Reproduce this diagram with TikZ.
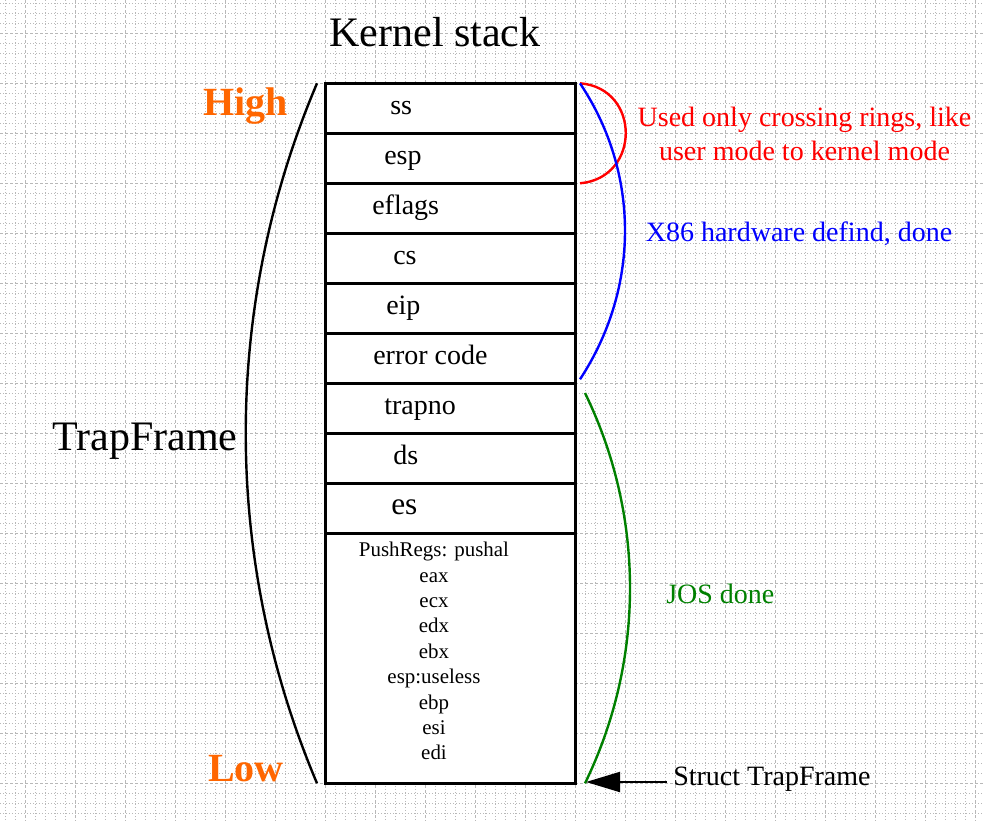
\documentclass[tikz,border=0pt]{standalone}
\usepackage{fontspec}
\setmainfont{Liberation Serif}
\usepackage{xcolor}
\usetikzlibrary{arrows.meta, positioning}
\definecolor{hilo}{HTML}{FF6600}
\definecolor{josgreen}{HTML}{008000}
\definecolor{gridgray}{HTML}{B8B8B8}
\tikzset{
    cell/.style={rectangle, draw=black, fill=white, line width=2.25pt, minimum width=187.5pt, minimum height=#1, inner sep=0pt, outer sep=0pt},
    cell/.default=37.5pt,
    field/.style={anchor=base west, inner sep=0pt, font=\fontsize{21}{25}\selectfont},
    pushreg/.style={anchor=base, inner sep=0pt, font=\fontsize{15.7}{19}\selectfont},
    note/.style={anchor=base, inner sep=0pt, font=\fontsize{21}{25}\selectfont},
    level/.style={anchor=base west, inner sep=0pt, text=hilo, font=\fontsize{30}{34}\selectfont\bfseries},
    bow/.style={line width=1.8pt},
    minorline/.style={gridgray, line width=0.75pt, dash pattern=on 0.75pt off 1.5pt},
    majorline/.style={gridgray, line width=0.75pt, dash pattern=on 2.25pt off 1.5pt}
}

\begin{document}
\begin{tikzpicture}[x=0.75pt, y=-0.75pt]
    \useasboundingbox (0,0) rectangle (983,821);

    % Grid paper
    \foreach \k in {0,...,97} {
        \pgfmathtruncatemacro\m{mod(\k,5)}
        \ifnum\m=2 \draw[majorline] (5.7+10*\k,0) -- (5.7+10*\k,821);
        \else \draw[minorline] (5.7+10*\k,0) -- (5.7+10*\k,821); \fi
    }
    \foreach \k in {0,...,81} {
        \pgfmathtruncatemacro\m{mod(\k,5)}
        \ifnum\m=3 \draw[majorline] (0,3.3+10*\k) -- (983,3.3+10*\k);
        \else \draw[minorline] (0,3.3+10*\k) -- (983,3.3+10*\k); \fi
    }

    % Stack cells
    \foreach \i in {1,...,9}
        \node[cell] (r\i) at (450.7, 58.3+50*\i) {};
    \node[cell=187.5pt] (r10) at (450.7, 658.3) {};

    % Field names
    \foreach \lbl/\lx [count=\i] in {ss/390, esp/384, eflags/372, cs/393, eip/386, error code/373, trapno/384, ds/393}
        \node[field] (f\i) at (\lx, 64.3+50*\i) {\lbl};
    \node[field, font=\fontsize{23.5}{28}\selectfont] (f9) at (391, 514.3) {es};

    % Registers pushed by pushal
    \foreach \reg [count=\j] in {PushRegs: pushal, eax, ecx, edx, ebx, esp:useless, ebp, esi, edi}
        \node[pushreg] (p\j) at (434, 531.3+25.4*\j) {\reg};

    % Titles
    \node[anchor=base, inner sep=0pt, font=\fontsize{31.5}{36}\selectfont] (title) at (435, 46) {Kernel stack};
    \node[anchor=base west, inner sep=0pt, font=\fontsize{31.5}{36}\selectfont] (frame) at (52, 450) {TrapFrame};
    \node[level] (high) at (203, 115) {High};
    \node[level] (low) at (208, 781.7) {Low};

    % Notes
    \node[note, text=red] (ring1) at (804.5, 126.7) {Used only crossing rings, like};
    \node[note, text=red] (ring2) at (804.5, 160.7) {user mode to kernel mode};
    \node[note, text=blue] (hw) at (799, 241.7) {X86 hardware defind, done};
    \node[note, text=josgreen, anchor=base west] (jos) at (666, 603.3) {JOS done};
    \node[note, anchor=base west, inner xsep=4.5pt] (struct) at (667, 785) {Struct TrapFrame};

    % Brackets
    \draw[bow] ([shift={(-8.7,0)}]r1.north west) .. controls (222,307) and (222,559) .. ([shift={(-8.7,0)}]r10.south west);
    \draw[bow, red] ([shift={(4.3,0)}]r1.north east) .. controls (641,88) and (641,178) .. ([shift={(4.3,0)}]r2.south east);
    \draw[bow, blue] ([shift={(4.3,0)}]r1.north east) .. controls (640,173) and (640,288) .. ([shift={(4.3,-4)}]r6.south east);
    \draw[bow, josgreen] ([shift={(9.3,9.7)}]r7.north east) .. controls (645,516) and (645,660) .. ([shift={(9.3,0)}]r10.south east);

    % Pointer to the frame
    \coordinate (tip) at ([shift={(10.3,-1.3)}]r10.south east);
    \draw[line width=1.5pt, -{Triangle[length=25.5pt, width=15pt]}] (struct.west |- tip) -- (tip);
\end{tikzpicture}
\end{document}
